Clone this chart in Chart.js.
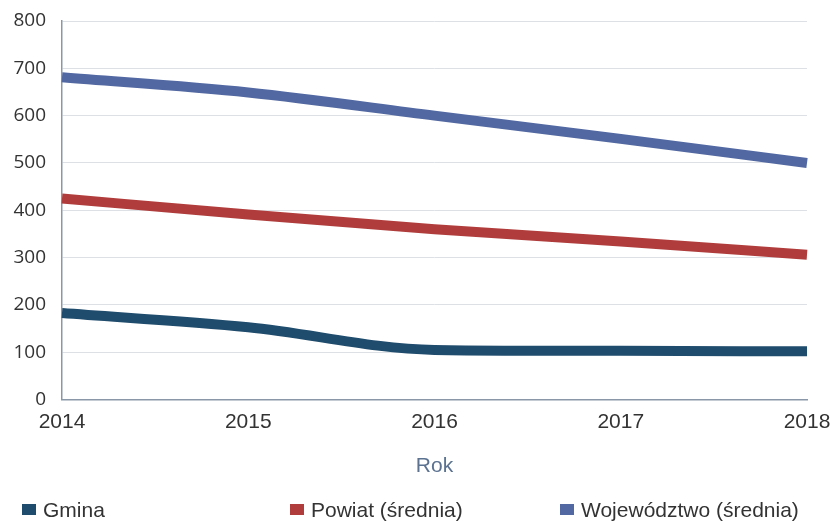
<!DOCTYPE html>
<html>
<head>
<meta charset="utf-8">
<script src="https://cdn.jsdelivr.net/npm/chart.js@4/dist/chart.umd.min.js"></script>
<style>
    html, body { margin: 0; padding: 0; background: #fff; }
    #wrap { position: relative; width: 830px; height: 522px; }
    #legend {
        position: absolute; left: 0; top: 498px; width: 830px; height: 26px;
        font-family: "Liberation Sans", sans-serif;
        font-size: 21px; color: #333;
    }
    .item { position: absolute; top: 0; white-space: nowrap; }
    .box { display: inline-block; width: 14px; height: 11px; margin-right: 7px; vertical-align: 2px; }
</style>
</head>
<body>
<div id="wrap">
    <canvas id="chart" width="830" height="522"></canvas>
    <div id="legend"></div>
</div>
<script>
const years = ["2014", "2015", "2016", "2017", "2018"];
const gmina = [183, 153, 105, 103, 102];
const powiat = [425, 391, 360, 334, 306];
const wojewodztwo = [681, 649, 600, 551, 500];
const seriesNames = ["Gmina", "Powiat (średnia)", "Województwo (średnia)"];
const seriesColors = ["#1f4b6c", "#b03d3b", "#5268a2"];
const legendLeft = [22, 290, 560];

const labelFont = "'Liberation Sans', sans-serif";

function makeDataset(label, data, color) {
    return {
        label: label,
        data: data,
        borderColor: color,
        backgroundColor: color,
        borderWidth: 10,
        pointRadius: 0,
        fill: false,
        cubicInterpolationMode: "monotone",
        borderCapStyle: "butt"
    };
}

const ctx = document.getElementById("chart").getContext("2d");
new Chart(ctx, {
    type: "line",
    data: {
        labels: years,
        datasets: [
            makeDataset(seriesNames[0], gmina, seriesColors[0]),
            makeDataset(seriesNames[1], powiat, seriesColors[1]),
            makeDataset(seriesNames[2], wojewodztwo, seriesColors[2])
        ]
    },
    options: {
        responsive: false,
        animation: false,
        layout: { padding: { left: 12, right: 0, top: 0, bottom: 43 } },
        scales: {
            x: {
                offset: false,
                grid: { display: false, drawTicks: false },
                border: { display: true, color: "#8a97a8", width: 1.5 },
                ticks: {
                    padding: 10,
                    color: "#333",
                    font: { family: labelFont, size: 21 },
                    maxRotation: 0
                },
                title: {
                    display: true,
                    text: "Rok",
                    color: "#5b7291",
                    font: { family: labelFont, size: 21 },
                    padding: { top: 9, bottom: 0 }
                },
                afterFit: function (scale) {
                    // last year label hangs past the plot edge like in the original
                    scale.paddingRight = 23;
                }
            },
            y: {
                min: 0,
                max: 800,
                ticks: {
                    stepSize: 100,
                    padding: 16,
                    color: "#333",
                    font: { family: "'Open Sans', sans-serif", size: 19 }
                },
                grid: { color: "#dde1e6", drawTicks: false },
                border: { display: true, color: "#8a97a8", width: 1.5 },
                afterFit: function (scale) {
                    scale.width = 50;
                    scale.paddingTop = 21;
                }
            }
        },
        plugins: {
            legend: { display: false },
            tooltip: { enabled: false }
        }
    }
});

const legend = document.getElementById("legend");
seriesNames.forEach((name, i) => {
    const item = document.createElement("div");
    item.className = "item";
    item.style.left = legendLeft[i] + "px";
    item.innerHTML = `<span class="box" style="background:${seriesColors[i]}"></span>${name}`;
    legend.appendChild(item);
});
</script>
</body>
</html>
